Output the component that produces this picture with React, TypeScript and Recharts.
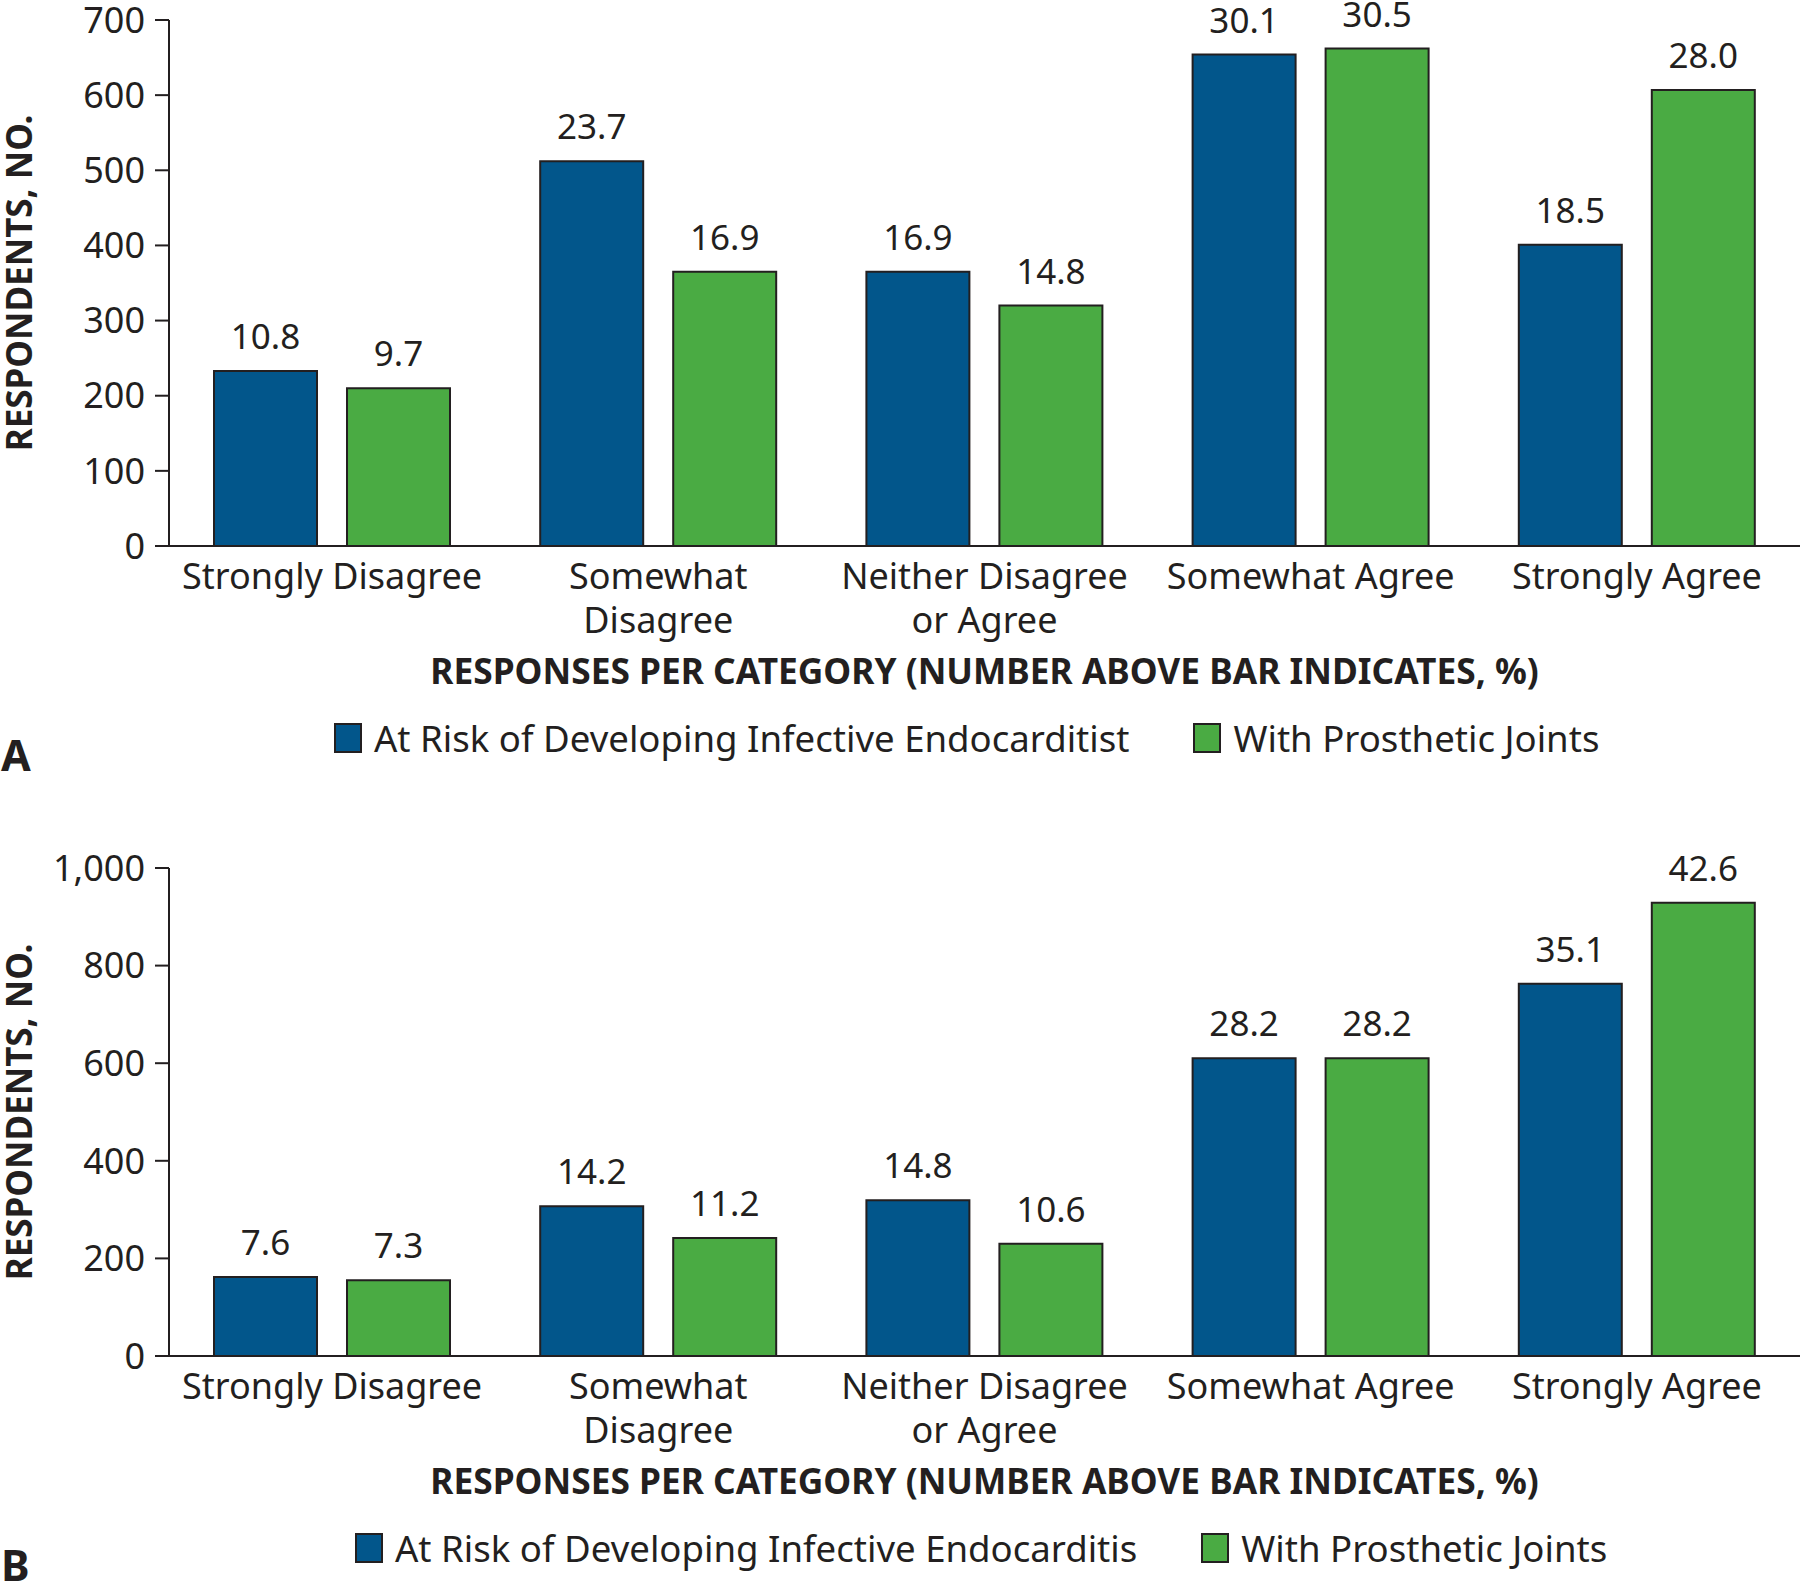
import { BarChart, Bar, XAxis, YAxis, LabelList, Legend } from 'recharts'

// answer categories (line breaks where the reference wraps them)
const categories = [
  'Strongly Disagree',
  'Somewhat\nDisagree',
  'Neither Disagree\nor Agree',
  'Somewhat Agree',
  'Strongly Agree',
]

// panel A: respondents, no. and share, %
const atRiskA = [233, 512, 365, 654, 401]
const prostheticA = [210, 365, 320, 662, 607]
const atRiskPctA = [10.8, 23.7, 16.9, 30.1, 18.5]
const prostheticPctA = [9.7, 16.9, 14.8, 30.5, 28.0]
const ticksA = [0, 100, 200, 300, 400, 500, 600, 700]

// panel B
const atRiskB = [162, 307, 319, 610, 763]
const prostheticB = [155, 242, 230, 610, 929]
const atRiskPctB = [7.6, 14.2, 14.8, 28.2, 35.1]
const prostheticPctB = [7.3, 11.2, 10.6, 28.2, 42.6]
const ticksB = [0, 200, 400, 600, 800, 1000]

const BLUE = '#02568b'
const GREEN = '#4aab43'
const INK = '#231f20'
const FONT = "'Noto Sans', 'Open Sans', sans-serif"

const CategoryTick = (props: any) => {
  const { x, y, payload } = props
  const lines = String(payload.value).split('\n')
  return (
    <text x={x} y={y + 43} textAnchor="middle" fill={INK} fontSize={36} fontFamily={FONT}>
      {lines.map((l, i) => (
        <tspan key={i} x={x} dy={i === 0 ? 0 : 44}>{l}</tspan>
      ))}
    </text>
  )
}

const yTitle = (props: any) => {
  const { viewBox } = props
  const cy = viewBox.y + viewBox.height / 2
  return (
    <text x={32} y={cy} transform={`rotate(-90, 32, ${cy})`} textAnchor="middle"
      fill={INK} fontSize={35} fontWeight={700} fontFamily={FONT}>
      RESPONDENTS, NO.
    </text>
  )
}

const xTitle = (props: any) => {
  const { viewBox } = props
  return (
    <text x={viewBox.x + viewBox.width / 2} y={viewBox.y + 138} textAnchor="middle"
      fill={INK} fontSize={35.3} fontWeight={700} fontFamily={FONT}>
      RESPONSES PER CATEGORY (NUMBER ABOVE BAR INDICATES, %)
    </text>
  )
}

const legendContent = (left: number) => (props: any) => {
  const { payload } = props
  return (
    <div style={{ display: 'flex', alignItems: 'center', paddingLeft: left, height: 46, fontFamily: FONT }}>
      {(payload || []).map((entry: any, i: number) => (
        <div key={i} style={{ display: 'flex', alignItems: 'center', marginRight: 64 }}>
          <div style={{ width: 24, height: 26, background: entry.color, border: `2px solid ${INK}`, marginRight: 12 }} />
          <span style={{ fontSize: 36.6, color: INK, whiteSpace: 'nowrap' }}>{entry.value}</span>
        </div>
      ))}
    </div>
  )
}

function Panel(props: any) {
  const { letter, top, height, marginTop, xAxisHeight, atRisk, prosthetic, atRiskPct, prostheticPct,
    ticks, atRiskName, legendLeft } = props
  const rows = categories.map((c, i) => ({
    category: c,
    atRisk: atRisk[i],
    prosthetic: prosthetic[i],
    atRiskPct: atRiskPct[i].toFixed(1),
    prostheticPct: prostheticPct[i].toFixed(1),
  }))
  const plotBottom = height - xAxisHeight

  return (
    <div style={{ position: 'absolute', left: 0, top, width: 1800, height }}>
      <BarChart width={1800} height={height} data={rows}
        margin={{ top: marginTop, right: 0, bottom: 0, left: 0 }}
        barCategoryGap={45} barGap={30}>
        <XAxis dataKey="category" height={xAxisHeight} tickLine={false} tickSize={0} tickMargin={0}
          axisLine={{ stroke: INK, strokeWidth: 2 }} tick={<CategoryTick />} interval={0}
          label={xTitle} />
        <YAxis width={169} domain={[0, ticks[ticks.length - 1]]} ticks={ticks} interval={0}
          tickSize={14} tickMargin={10}
          axisLine={{ stroke: INK, strokeWidth: 2 }} tickLine={{ stroke: INK, strokeWidth: 2 }}
          tick={{ fill: INK, fontSize: 36, fontFamily: FONT }}
          tickFormatter={(v: number) => v.toLocaleString('en-US')}
          label={yTitle} />
        <Legend layout="horizontal" verticalAlign="middle" align="center"
          wrapperStyle={{ top: plotBottom + 169, left: 0, width: 1800 }}
          content={legendContent(legendLeft)} />
        <Bar dataKey="atRisk" name={atRiskName} fill={BLUE} stroke={INK} strokeWidth={2}
          isAnimationActive={false}>
          <LabelList dataKey="atRiskPct" position="top" offset={22} fill={INK} fontSize={35} fontFamily={FONT} />
        </Bar>
        <Bar dataKey="prosthetic" name="With Prosthetic Joints" fill={GREEN} stroke={INK} strokeWidth={2}
          isAnimationActive={false}>
          <LabelList dataKey="prostheticPct" position="top" offset={22} fill={INK} fontSize={35} fontFamily={FONT} />
        </Bar>
      </BarChart>
      <div style={{ position: 'absolute', left: 1, top: plotBottom + 187, fontSize: 43, lineHeight: 1,
        fontWeight: 700, color: INK, fontFamily: FONT }}>
        {letter}
      </div>
    </div>
  )
}

export default function App() {
  return (
    <div style={{ position: 'absolute', left: 0, top: 0, width: 1800, height: 1583, overflow: 'hidden',
      background: '#fff', fontFamily: FONT }}>
      <Panel letter="A" top={0} height={790} marginTop={20} xAxisHeight={244}
        atRisk={atRiskA} prosthetic={prostheticA} atRiskPct={atRiskPctA} prostheticPct={prostheticPctA}
        ticks={ticksA} atRiskName="At Risk of Developing Infective Endocarditist" legendLeft={334} />
      <Panel letter="B" top={790} height={793} marginTop={78} xAxisHeight={227}
        atRisk={atRiskB} prosthetic={prostheticB} atRiskPct={atRiskPctB} prostheticPct={prostheticPctB}
        ticks={ticksB} atRiskName="At Risk of Developing Infective Endocarditis" legendLeft={355} />
    </div>
  )
}
